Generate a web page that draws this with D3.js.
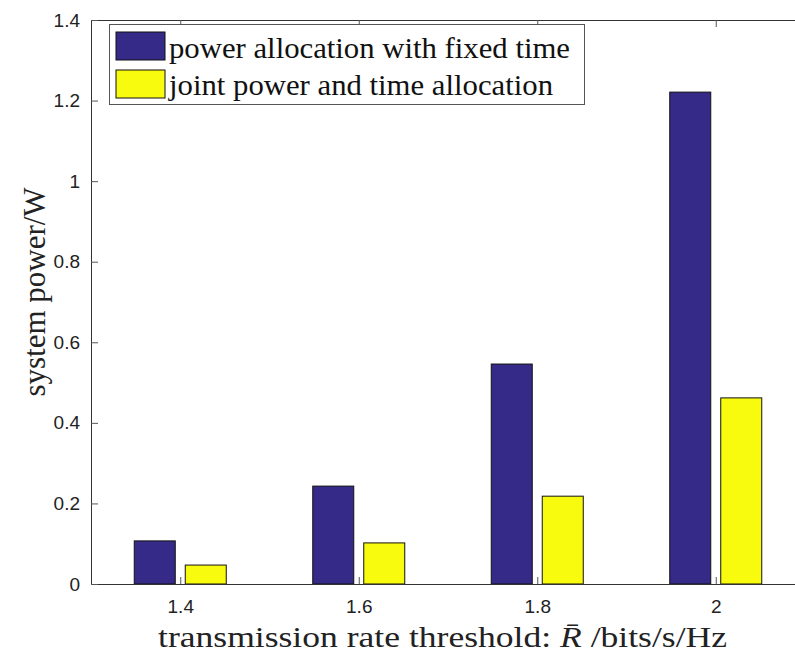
<!DOCTYPE html>
<html>
<head>
  <script src="https://cdnjs.cloudflare.com/ajax/libs/d3/7.8.5/d3.min.js"></script>
  <style>body { margin: 0; background: #fff }</style>
</head>
<body>
  <div id="chart"></div>

  <script>
    const rates = [1.4, 1.6, 1.8, 2];
    const fixedTime = [0.107, 0.243, 0.546, 1.221];
    const jointAlloc = [0.047, 0.102, 0.218, 0.462];
    const seriesNames = ['power allocation with fixed time', 'joint power and time allocation'];
    const colors = ['#352a87', '#f9fb0e'];
    const yTicks = [0, 0.2, 0.4, 0.6, 0.8, 1, 1.2, 1.4];

    const width = 795, height = 654;
    const m = { left: 91, right: 805, top: 20, bottom: 584 };
    const serif = '"Liberation Serif", "Times New Roman", serif';

    const svg = d3.select('#chart').append('svg')
      .attr('width', width)
      .attr('height', height);

    const x = d3.scaleLinear().domain([1.3, 2.1]).range([m.left, m.right]);
    const y = d3.scaleLinear().domain([0, 1.4]).range([m.bottom, m.top]);

    const barW = 41, gap = 5;

    // bars
    const series = [fixedTime, jointAlloc];
    series.forEach((vals, s) => {
      svg.append('g').selectAll('rect')
        .data(vals)
        .join('rect')
        .attr('x', (d, i) => s === 0 ? x(rates[i]) - gap - barW : x(rates[i]) + gap)
        .attr('y', d => y(d))
        .attr('width', barW)
        .attr('height', d => y(0) - y(d))
        .attr('fill', colors[s])
        .attr('stroke', '#111')
        .attr('stroke-width', 1);
    });

    // axes
    const tickFont = g => g.selectAll('text')
      .attr('font-family', '"Liberation Sans", Arial, sans-serif')
      .attr('font-size', 19)
      .attr('fill', '#222');

    svg.append('g')
      .attr('transform', `translate(0,${m.bottom})`)
      .call(d3.axisBottom(x).tickValues(rates).tickFormat(d3.format('')).tickSize(-7).tickPadding(16))
      .call(g => g.select('.domain').attr('stroke', '#333'))
      .call(g => g.selectAll('line').attr('stroke', '#555'))
      .call(tickFont);

    svg.append('g')
      .attr('transform', `translate(0,${m.top})`)
      .call(d3.axisTop(x).tickValues(rates).tickFormat('').tickSize(-7))
      .call(g => g.select('.domain').attr('stroke', '#333'))
      .call(g => g.selectAll('line').attr('stroke', '#555'));

    svg.append('g')
      .attr('transform', `translate(${m.left},0)`)
      .call(d3.axisLeft(y).tickValues(yTicks).tickFormat(d => d === 0 || d === 1 ? d3.format('d')(d) : d3.format('.1f')(d)).tickSize(-7).tickPadding(11))
      .call(g => g.select('.domain').attr('stroke', '#333'))
      .call(g => g.selectAll('line').attr('stroke', '#555'))
      .call(tickFont);

    // axis titles
    const xt = svg.append('text')
      .attr('x', 158)
      .attr('y', 647)
      .attr('textLength', 569)
      .attr('lengthAdjust', 'spacingAndGlyphs')
      .attr('font-family', serif)
      .attr('font-size', 29)
      .attr('fill', '#222');
    xt.append('tspan').text('transmission rate threshold:  ');
    xt.append('tspan').attr('font-style', 'italic').text('R\u0304');
    xt.append('tspan').text(' /bits/s/Hz');

    svg.append('text')
      .attr('transform', 'translate(45,292) rotate(-90)')
      .attr('text-anchor', 'middle')
      .attr('font-family', serif)
      .attr('font-size', 31)
      .attr('fill', '#222')
      .text('system power/W');

    // legend
    const lg = svg.append('g');
    lg.append('rect')
      .attr('x', 109.5).attr('y', 24.5)
      .attr('width', 475).attr('height', 80)
      .attr('fill', '#fff').attr('stroke', '#555');
    const legendLen = [401, 384];
    seriesNames.forEach((name, i) => {
      lg.append('rect')
        .attr('x', 116).attr('y', 32 + i * 38)
        .attr('width', 49).attr('height', 28)
        .attr('fill', colors[i]).attr('stroke', '#111');
      lg.append('text')
        .attr('x', 169).attr('y', 58 + i * 37)
        .attr('textLength', legendLen[i])
        .attr('lengthAdjust', 'spacingAndGlyphs')
        .attr('font-family', serif)
        .attr('font-size', 30)
        .attr('fill', '#111')
        .text(name);
    });
  </script>
</body>
</html>
